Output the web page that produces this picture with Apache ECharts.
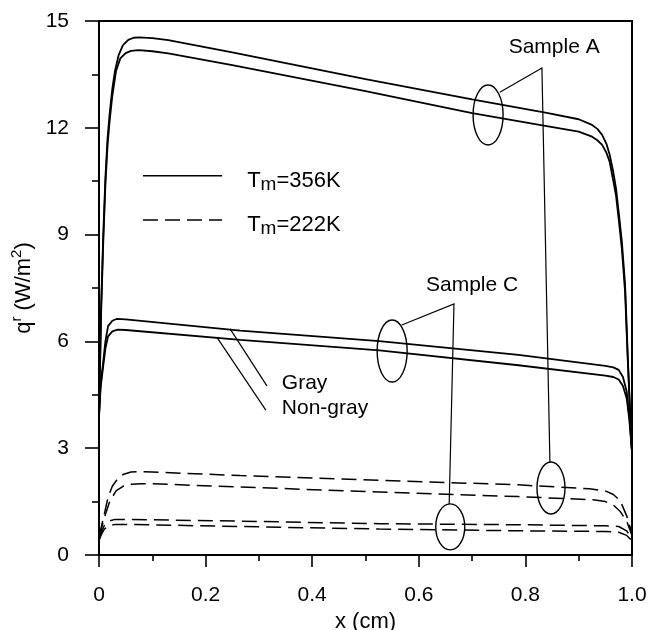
<!DOCTYPE html>
<html><head><meta charset="utf-8">
<script src="https://cdn.jsdelivr.net/npm/echarts@6/dist/echarts.min.js"></script>
<style>html,body{margin:0;padding:0;background:#fff}#c{width:652px;height:630px}</style>
</head><body><div id="c"></div>
<script>
// ---- tick labels ----
const xTickLabels = ['0', '0.2', '0.4', '0.6', '0.8', '1.0'];
const yTickLabels = ['0', '3', '6', '9', '12', '15'];

// ---- Sample A, Tm = 356 K (solid) ----
const sampleA_356_gray = [[0,3.9],[0.004,7.0],[0.008,9.0],[0.012,10.6],[0.016,11.7],[0.02,12.4],[0.025,13.1],[0.03,13.6],[0.037,14.05],[0.045,14.32],[0.055,14.47],[0.065,14.53],[0.075,14.54],[0.1,14.52],[0.13,14.46],[0.25,14.12],[0.5,13.37],[0.7,12.8],[0.84,12.42],[0.9,12.24],[0.925,12.08],[0.935,11.97],[0.944,11.8],[0.952,11.55],[0.958,11.25],[0.965,10.75],[0.97,10.3],[0.976,9.5],[0.981,8.8],[0.987,7.6],[0.992,5.6],[0.996,4.2],[1.0,2.9]];
const sampleA_356_nongray = [[0,3.9],[0.004,6.8],[0.008,8.8],[0.012,10.4],[0.016,11.5],[0.02,12.2],[0.025,12.9],[0.032,13.6],[0.04,13.95],[0.05,14.1],[0.06,14.16],[0.075,14.18],[0.1,14.15],[0.13,14.09],[0.25,13.76],[0.5,13.03],[0.7,12.41],[0.84,12.05],[0.9,11.89],[0.925,11.75],[0.935,11.65],[0.944,11.52],[0.952,11.3],[0.958,11.05],[0.965,10.5],[0.97,10.1],[0.976,9.3],[0.981,8.6],[0.987,7.4],[0.992,5.5],[0.996,4.1],[1.0,2.9]];

// ---- Sample C, Tm = 356 K (solid) ----
const sampleC_356_gray = [[0,3.9],[0.003,4.8],[0.007,5.3],[0.012,6.0],[0.017,6.43],[0.025,6.58],[0.033,6.63],[0.05,6.62],[0.265,6.3],[0.526,6.01],[0.787,5.62],[0.95,5.31],[0.965,5.27],[0.975,5.2],[0.983,5.0],[0.99,4.6],[0.995,3.9],[1.0,2.9]];
const sampleC_356_nongray = [[0,3.9],[0.003,4.7],[0.007,5.2],[0.012,5.8],[0.017,6.14],[0.025,6.28],[0.035,6.33],[0.05,6.32],[0.265,6.04],[0.526,5.75],[0.787,5.33],[0.95,5.04],[0.965,5.0],[0.975,4.93],[0.983,4.75],[0.99,4.4],[0.995,3.8],[1.0,2.9]];

// ---- Sample A, Tm = 222 K (dashed) ----
const sampleA_222_gray = [[0,0.55],[0.003,0.7],[0.006,0.9],[0.01,1.15],[0.017,1.62],[0.025,1.93],[0.035,2.14],[0.045,2.26],[0.06,2.33],[0.08,2.34],[0.1,2.33],[0.265,2.23],[0.526,2.1],[0.787,1.97],[0.92,1.86],[0.95,1.8],[0.965,1.7],[0.978,1.52],[0.99,1.1],[1.0,0.6]];
const sampleA_222_nongray = [[0,0.5],[0.003,0.66],[0.006,0.83],[0.01,1.05],[0.02,1.5],[0.032,1.8],[0.045,1.93],[0.06,1.99],[0.08,2.0],[0.1,2.0],[0.265,1.91],[0.526,1.77],[0.787,1.64],[0.927,1.55],[0.95,1.5],[0.965,1.4],[0.978,1.22],[0.99,0.95],[1.0,0.55]];

// ---- Sample C, Tm = 222 K (dashed) ----
const sampleC_222_gray = [[0,0.45],[0.004,0.63],[0.01,0.83],[0.02,0.96],[0.03,1.0],[0.05,1.0],[0.265,0.95],[0.526,0.88],[0.787,0.85],[0.95,0.82],[0.975,0.8],[0.99,0.68],[1.0,0.45]];
const sampleC_222_nongray = [[0,0.4],[0.004,0.56],[0.01,0.73],[0.02,0.83],[0.03,0.86],[0.05,0.86],[0.265,0.8],[0.526,0.73],[0.787,0.68],[0.95,0.66],[0.975,0.64],[0.99,0.55],[1.0,0.4]];

const FONT = 'Liberation Sans, Arial, Helvetica, sans-serif';
const solid = { color: '#000', width: 1.8, type: 'solid' };
const dashed = { color: '#000', width: 1.5, type: [15, 7] };

function line(name, data, style) {
  return { name, type: 'line', data, symbol: 'none', smooth: false, lineStyle: style, silent: true, animation: false, z: 3 };
}

const chart = echarts.init(document.getElementById('c'), null, { renderer: 'canvas' });
chart.setOption({
  animation: false,
  backgroundColor: '#fff',
  textStyle: { fontFamily: FONT, color: '#000' },
  grid: { left: 99, right: 20, top: 21, bottom: 75, containLabel: false, outerBoundsMode: 'none',
          show: true, borderColor: '#000', borderWidth: 2, backgroundColor: 'transparent' },
  xAxis: {
    type: 'value', min: 0, max: 1, interval: 0.2,
    name: 'x (cm)', nameLocation: 'middle', nameGap: 55,
    nameTextStyle: { fontSize: 22, fontFamily: FONT, color: '#000' },
    axisLine: { show: true, onZero: false, lineStyle: { color: '#000', width: 2 } },
    axisTick: { show: true, inside: false, length: 12, lineStyle: { color: '#000', width: 1.6 } },
    minorTick: { show: true, splitNumber: 2, length: 6, lineStyle: { color: '#000', width: 1.6 } },
    splitLine: { show: false },
    axisLabel: { fontSize: 21, fontFamily: FONT, color: '#000', margin: 30,
      formatter: v => xTickLabels[Math.round(v / 0.2)] }
  },
  yAxis: {
    type: 'value', min: 0, max: 15, interval: 3,
    name: '{q|q}{s|r}{q| (W/m}{s|2}{q|)}', nameLocation: 'middle', nameGap: 56, nameRotate: 90,
    nameTextStyle: { fontFamily: FONT, color: '#000',
      rich: { q: { fontSize: 22, lineHeight: 28, fontFamily: FONT, color: '#000' },
              s: { fontSize: 15, lineHeight: 15, verticalAlign: 'top', fontFamily: FONT, color: '#000' } } },
    axisLine: { show: true, onZero: false, lineStyle: { color: '#000', width: 2 } },
    axisTick: { show: true, inside: false, length: 14, lineStyle: { color: '#000', width: 1.6 } },
    minorTick: { show: true, splitNumber: 2, length: 7, lineStyle: { color: '#000', width: 1.6 } },
    splitLine: { show: false },
    axisLabel: { fontSize: 21, fontFamily: FONT, color: '#000', margin: 30,
      formatter: v => yTickLabels[Math.round(v / 3)] }
  },
  series: [
    line('A356 gray', sampleA_356_gray, solid),
    line('A356 nongray', sampleA_356_nongray, solid),
    line('C356 gray', sampleC_356_gray, solid),
    line('C356 nongray', sampleC_356_nongray, solid),
    line('A222 gray', sampleA_222_gray, dashed),
    line('A222 nongray', sampleA_222_nongray, dashed),
    line('C222 gray', sampleC_222_gray, dashed),
    line('C222 nongray', sampleC_222_nongray, dashed)
  ]
});

// ---- annotations (anchored in data space, converted by the chart's scales) ----
const P = (x, y) => chart.convertToPixel({ gridIndex: 0 }, [x, y]);
const thin = { fill: 'none', stroke: '#000', lineWidth: 1.2 };
function ellipse(x, y, rx, ry) {
  const c = P(x, y);
  return { type: 'ellipse', shape: { cx: c[0], cy: c[1], rx, ry }, style: Object.assign({}, thin, { lineWidth: 1.4 }), z: 10 };
}
function poly(pts) {
  return { type: 'polyline', shape: { points: pts.map(p => P(p[0], p[1])) }, style: thin, z: 10 };
}
function txt(x, y, text, align, extra) {
  const c = P(x, y);
  return { type: 'text', x: c[0], y: c[1], z: 10,
    style: Object.assign({ text, fontSize: 21, fontFamily: FONT, fill: '#000', align: align || 'center', verticalAlign: 'middle' }, extra || {}) };
}
function legendLine(x1, x2, y, dash) {
  const a = P(x1, y), b = P(x2, y);
  return { type: 'line', shape: { x1: a[0], y1: a[1], x2: b[0], y2: b[1] },
    style: { stroke: '#000', lineWidth: 1.5, lineDash: dash ? [15, 7] : null }, z: 10 };
}
const legendRich = {
  a: { fontSize: 22, lineHeight: 26, fontFamily: FONT, fill: '#000' },
  s: { fontSize: 19, lineHeight: 19, verticalAlign: 'bottom', fontFamily: FONT, fill: '#000' }
};

chart.setOption({
  graphic: [
    ellipse(0.73, 12.36, 15, 30),
    ellipse(0.848, 1.88, 14, 26),
    ellipse(0.55, 5.73, 15, 31),
    ellipse(0.659, 0.79, 14.5, 23),
    poly([[0.752, 13.0], [0.831, 13.68], [0.846, 2.61]]),
    poly([[0.568, 6.46], [0.666, 7.05], [0.657, 1.43]]),
    poly([[0.246, 6.35], [0.315, 4.75]]),
    poly([[0.221, 6.12], [0.313, 4.07]]),
    txt(0.854, 14.27, 'Sample A'),
    txt(0.70, 7.58, 'Sample C'),
    txt(0.343, 4.83, 'Gray', 'left'),
    txt(0.343, 4.13, 'Non-gray', 'left'),
    legendLine(0.0826, 0.231, 10.65, false),
    legendLine(0.0826, 0.231, 9.41, true),
    txt(0.278, 10.51, '{a|T}{s|m}{a|=356K}', 'left', { rich: legendRich }),
    txt(0.278, 9.27, '{a|T}{s|m}{a|=222K}', 'left', { rich: legendRich })
  ]
});
</script>
</body></html>
